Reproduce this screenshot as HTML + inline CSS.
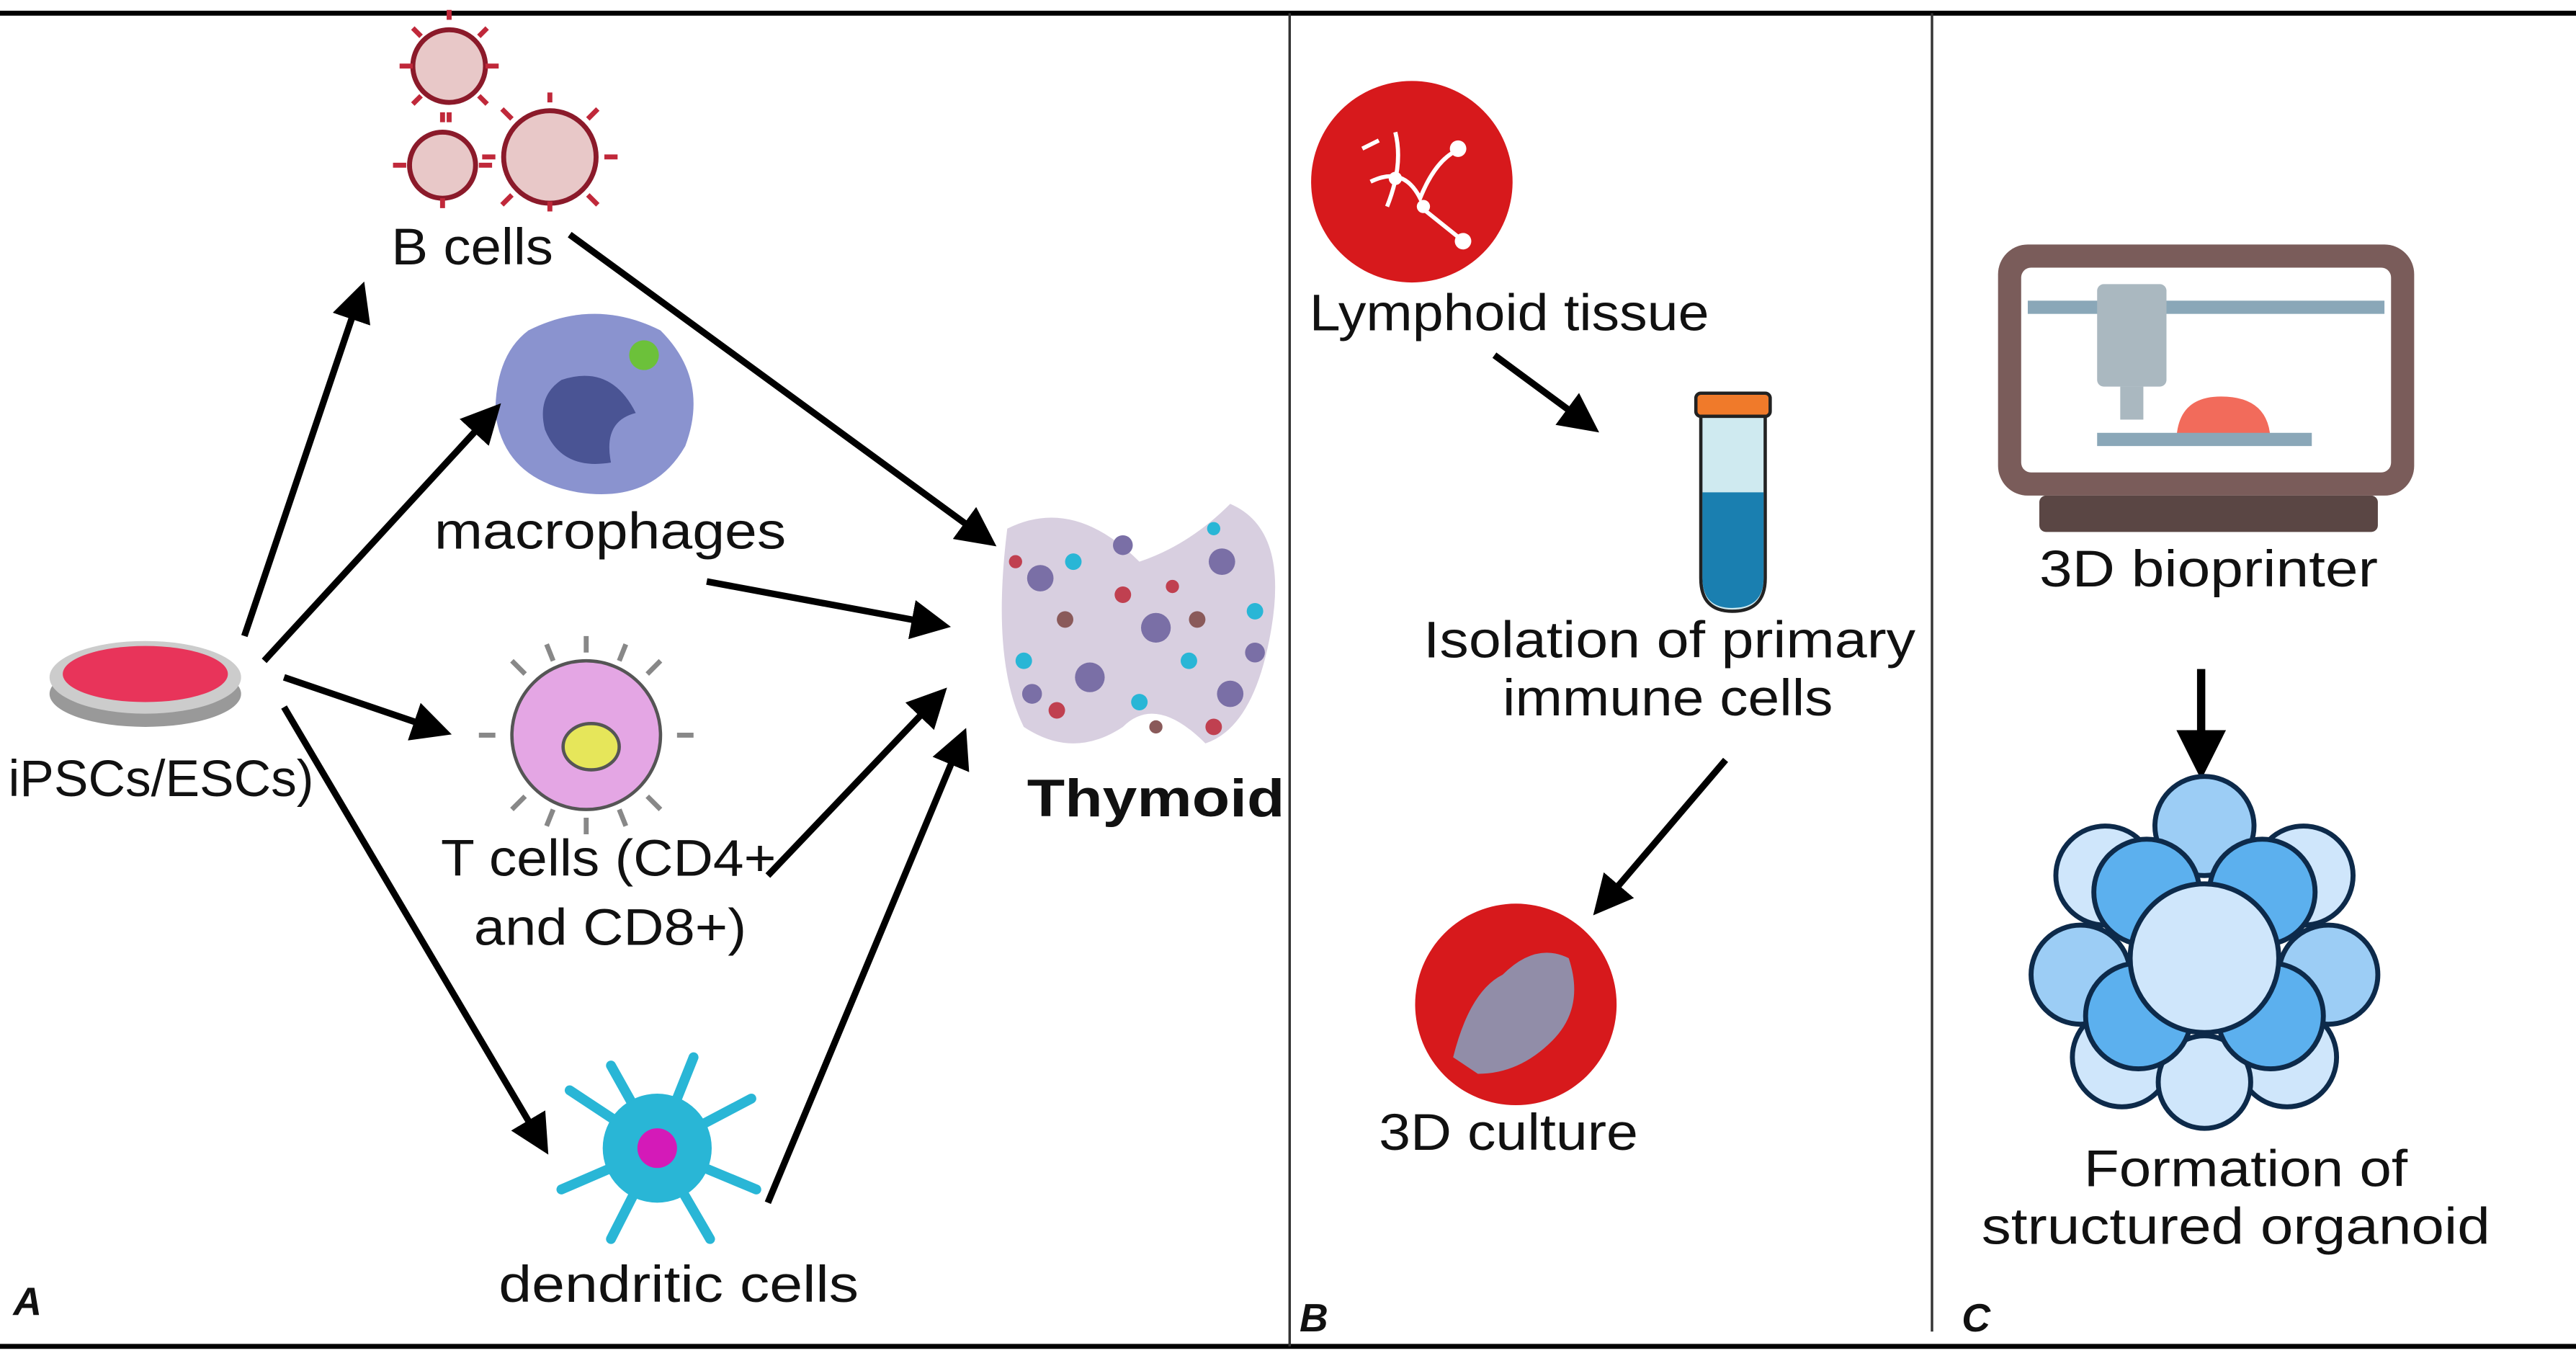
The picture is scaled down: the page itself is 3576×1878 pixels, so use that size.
<!DOCTYPE html>
<html><head><meta charset="utf-8"><style>
html,body{margin:0;padding:0;background:#fff;}
svg{display:block;}
text{font-family:"Liberation Sans","DejaVu Sans",sans-serif;fill:#111;}
</style></head><body>
<svg width="3576" height="1878" viewBox="0 0 1560 819" preserveAspectRatio="none" xmlns="http://www.w3.org/2000/svg">
<defs>
<marker id="ah" markerWidth="6" markerHeight="6" refX="4" refY="3" orient="auto" markerUnits="strokeWidth">
<path d="M0,0 L6,3 L0,6 Z" fill="#000"/></marker>
</defs>
<rect width="1560" height="819" fill="#fff"/>
<line x1="0" y1="8" x2="1560" y2="8" stroke="#000" stroke-width="3"/>
<line x1="0" y1="815" x2="1560" y2="815" stroke="#000" stroke-width="3"/>
<line x1="781" y1="8" x2="781" y2="815" stroke="#333" stroke-width="1.5"/>
<line x1="1170" y1="8" x2="1170" y2="806" stroke="#333" stroke-width="1.5"/>
<text x="8" y="796" font-size="24" font-weight="bold" font-style="italic">A</text>
<text x="787" y="806" font-size="24" font-weight="bold" font-style="italic">B</text>
<text x="1188" y="806" font-size="24" font-weight="bold" font-style="italic">C</text>

<!-- Petri dish -->
<ellipse cx="88" cy="420" rx="58" ry="20" fill="#999"/>
<ellipse cx="88" cy="410" rx="58" ry="22" fill="#ccc"/>
<ellipse cx="88" cy="408" rx="50" ry="17" fill="#e8345a"/>
<text x="5" y="482" font-size="31" textLength="185" lengthAdjust="spacingAndGlyphs">iPSCs/ESCs)</text>

<!-- B cells -->
<g fill="#e8c8c8" stroke="#8b1a2a" stroke-width="3">
<circle cx="272" cy="40" r="22"/><circle cx="268" cy="100" r="20"/><circle cx="333" cy="95" r="28"/>
</g>
<g stroke="#c0283a" stroke-width="3">
<path d="M272 12v-6M250 40h-8M294 40h8M272 68v6M255 22l-5-5M290 22l5-5M255 58l-5 5M290 58l5 5"/>
<path d="M268 74v-6M246 100h-8M290 100h8M268 126v-6"/>
<path d="M333 62v-6M300 95h-8M366 95h8M333 128v-6M310 72l-6-6M356 72l6-6M310 118l-6 6M356 118l6 6"/>
</g>
<text x="237" y="160" font-size="31" textLength="98" lengthAdjust="spacingAndGlyphs">B cells</text>

<!-- macrophage -->
<path d="M320 200 Q360 180 400 200 Q430 230 415 270 Q395 305 350 298 Q305 290 300 250 Q300 215 320 200Z" fill="#8a93cf"/>
<path d="M340 230 Q370 220 385 250 Q365 255 370 280 Q340 285 330 260 Q325 240 340 230Z" fill="#4a5494"/>
<circle cx="390" cy="215" r="9" fill="#6cc13a"/>
<text x="263" y="332" font-size="31" textLength="213" lengthAdjust="spacingAndGlyphs">macrophages</text>

<!-- T cell -->
<g stroke="#888" stroke-width="3" fill="none">
<path d="M355 395v-10M355 495v10M300 445h-10M410 445h10M318 408l-8-8M392 408l8-8M318 482l-8 8M392 482l8 8M335 400l-4-10M375 400l4-10M335 490l-4 10M375 490l4 10"/>
</g>
<circle cx="355" cy="445" r="45" fill="#e4a6e4" stroke="#555" stroke-width="2"/>
<ellipse cx="358" cy="452" rx="17" ry="14" fill="#e6e65a" stroke="#555" stroke-width="2"/>
<text x="267" y="530" font-size="31" textLength="203" lengthAdjust="spacingAndGlyphs">T cells (CD4+</text>
<text x="287" y="572" font-size="31" textLength="165" lengthAdjust="spacingAndGlyphs">and CD8+)</text>

<!-- dendritic -->
<g stroke="#29b6d6" stroke-width="6" stroke-linecap="round">
<path d="M398 695 L345 660 M398 695 L340 720 M398 695 L370 645 M398 695 L420 640 M398 695 L455 665 M398 695 L458 720 M398 695 L430 750 M398 695 L370 750"/>
</g>
<circle cx="398" cy="695" r="33" fill="#29b6d6"/>
<circle cx="398" cy="695" r="12" fill="#d41ab8"/>
<text x="302" y="788" font-size="31" textLength="218" lengthAdjust="spacingAndGlyphs">dendritic cells</text>

<!-- Thymoid -->
<g>
<path d="M610 320 Q650 300 690 340 Q720 330 745 305 Q780 320 770 380 Q760 440 730 450 Q700 420 680 440 Q650 460 620 440 Q600 400 610 320Z" fill="#d8cfe0"/>
<g fill="#7a6fa6"><circle cx="630" cy="350" r="8"/><circle cx="700" cy="380" r="9"/><circle cx="740" cy="340" r="8"/><circle cx="660" cy="410" r="9"/><circle cx="745" cy="420" r="8"/><circle cx="680" cy="330" r="6"/><circle cx="625" cy="420" r="6"/><circle cx="760" cy="395" r="6"/></g>
<g fill="#29b6d6"><circle cx="650" cy="340" r="5"/><circle cx="720" cy="400" r="5"/><circle cx="620" cy="400" r="5"/><circle cx="760" cy="370" r="5"/><circle cx="690" cy="425" r="5"/><circle cx="735" cy="320" r="4"/></g>
<g fill="#c04050"><circle cx="680" cy="360" r="5"/><circle cx="735" cy="440" r="5"/><circle cx="640" cy="430" r="5"/><circle cx="710" cy="355" r="4"/><circle cx="615" cy="340" r="4"/></g>
<g fill="#8a5a5a"><circle cx="645" cy="375" r="5"/><circle cx="725" cy="375" r="5"/><circle cx="700" cy="440" r="4"/></g>
</g>
<text x="622" y="494" font-size="32" font-weight="bold" textLength="156" lengthAdjust="spacingAndGlyphs">Thymoid</text>

<!-- arrows A -->
<g stroke="#000" stroke-width="4" marker-end="url(#ah)">
<line x1="148" y1="385" x2="218" y2="178"/>
<line x1="160" y1="400" x2="298" y2="250"/>
<line x1="172" y1="410" x2="266" y2="442"/>
<line x1="172" y1="428" x2="328" y2="692"/>
<line x1="345" y1="142" x2="597" y2="326"/>
<line x1="428" y1="352" x2="568" y2="378"/>
<line x1="465" y1="530" x2="568" y2="422"/>
<line x1="465" y1="728" x2="582" y2="448"/>
</g>

<!-- Panel B -->
<circle cx="855" cy="110" r="61" fill="#d7191c"/>
<g stroke="#fff" stroke-width="2.5" fill="none"><path d="M830 110 Q850 100 860 120 Q870 95 885 90 M845 80 Q850 100 840 125 M860 125 L885 145 M825 90 L835 85"/></g>
<g fill="#fff"><circle cx="845" cy="108" r="4"/><circle cx="862" cy="125" r="4"/><circle cx="883" cy="90" r="5"/><circle cx="886" cy="146" r="5"/></g>
<text x="793" y="200" font-size="31" textLength="242" lengthAdjust="spacingAndGlyphs">Lymphoid tissue</text>
<line x1="905" y1="215" x2="962" y2="257" stroke="#000" stroke-width="4" marker-end="url(#ah)"/>
<rect x="1027" y="238" width="45" height="14" rx="3" fill="#f07a2a" stroke="#222" stroke-width="2"/>
<path d="M1030 252 H1069 V350 Q1069 370 1049 370 Q1030 370 1030 350Z" fill="#cfeaf0" stroke="#222" stroke-width="2"/>
<path d="M1031 298 H1068 V350 Q1068 368 1049 368 Q1031 368 1031 350Z" fill="#1a7fb0"/>
<text x="862" y="398" font-size="31" textLength="298" lengthAdjust="spacingAndGlyphs">Isolation of primary</text>
<text x="910" y="433" font-size="31" textLength="200" lengthAdjust="spacingAndGlyphs">immune cells</text>
<line x1="1045" y1="460" x2="970" y2="548" stroke="#000" stroke-width="4" marker-end="url(#ah)"/>
<circle cx="918" cy="608" r="61" fill="#d7191c"/>
<path d="M880 640 Q890 600 910 590 Q930 570 950 580 Q960 610 940 630 Q920 650 895 650Z" fill="#8a9ab8" opacity="0.9"/>
<text x="835" y="696" font-size="31" textLength="157" lengthAdjust="spacingAndGlyphs">3D culture</text>

<!-- Panel C -->
<rect x="1210" y="148" width="252" height="152" rx="18" fill="#7a5c5a"/>
<rect x="1224" y="162" width="224" height="124" rx="6" fill="#fff"/>
<rect x="1228" y="182" width="216" height="8" fill="#8aa7b8"/>
<rect x="1270" y="172" width="42" height="62" rx="4" fill="#aab8c0"/>
<rect x="1284" y="234" width="14" height="20" fill="#aab8c0"/>
<path d="M1318 268 Q1318 240 1345 240 Q1375 240 1375 268Z" fill="#f26b5b"/>
<rect x="1270" y="262" width="130" height="8" fill="#8aa7b8"/>
<rect x="1235" y="300" width="205" height="22" rx="4" fill="#5a4644"/>
<text x="1235" y="355" font-size="31" textLength="205" lengthAdjust="spacingAndGlyphs">3D bioprinter</text>
<line x1="1333" y1="405" x2="1333" y2="462" stroke="#000" stroke-width="5" marker-end="url(#ah)"/>
<g stroke="#0d2a4a" stroke-width="3">
<circle cx="1275" cy="530" r="30" fill="#cfe6fb"/><circle cx="1395" cy="530" r="30" fill="#cfe6fb"/>
<circle cx="1260" cy="590" r="30" fill="#9ccdf5"/><circle cx="1410" cy="590" r="30" fill="#9ccdf5"/>
<circle cx="1285" cy="640" r="30" fill="#cfe6fb"/><circle cx="1385" cy="640" r="30" fill="#cfe6fb"/>
<circle cx="1335" cy="500" r="30" fill="#9ccdf5"/><circle cx="1335" cy="655" r="28" fill="#cfe6fb"/>
<circle cx="1300" cy="540" r="32" fill="#5cb0ee"/><circle cx="1370" cy="540" r="32" fill="#5cb0ee"/>
<circle cx="1295" cy="615" r="32" fill="#5cb0ee"/><circle cx="1375" cy="615" r="32" fill="#5cb0ee"/>
<circle cx="1335" cy="580" r="45" fill="#cfe6fb"/>
</g>
<text x="1262" y="718" font-size="31" textLength="196" lengthAdjust="spacingAndGlyphs">Formation of</text>
<text x="1200" y="753" font-size="31" textLength="308" lengthAdjust="spacingAndGlyphs">structured organoid</text>
</svg>
</body></html>
